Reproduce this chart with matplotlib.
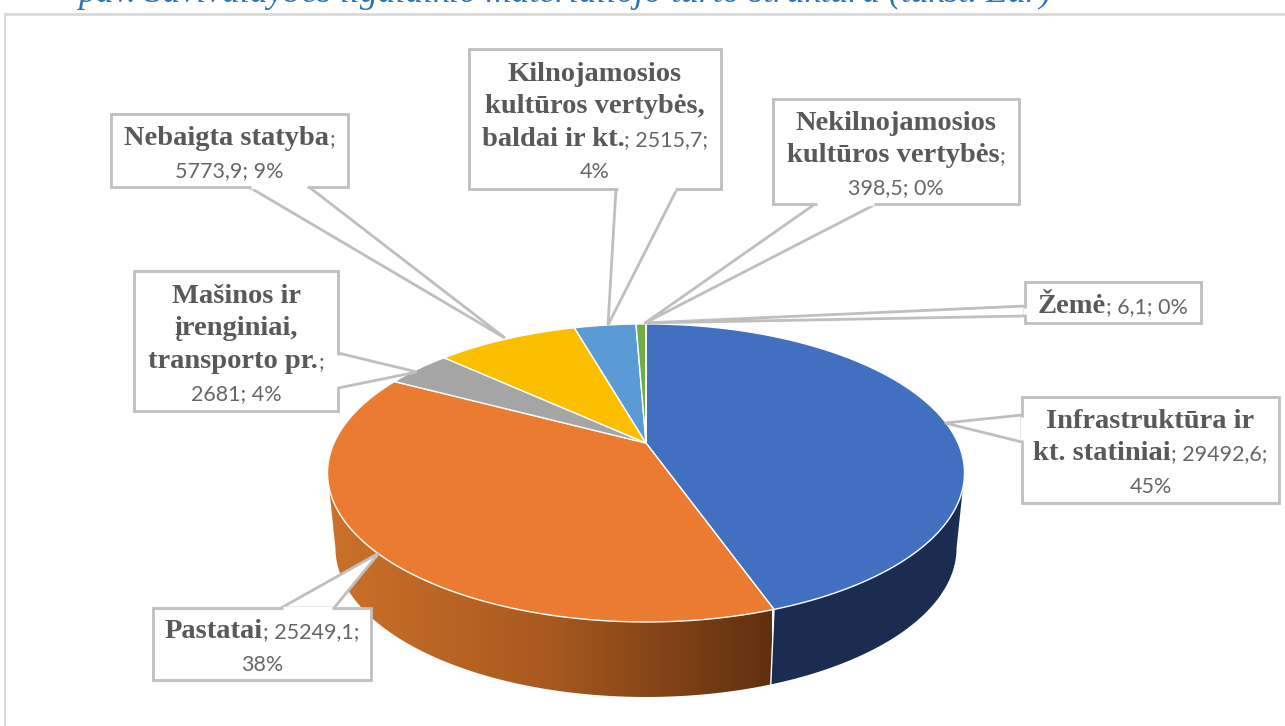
import numpy as np
import matplotlib
matplotlib.use("Agg")
import matplotlib.pyplot as plt
from matplotlib.colors import LinearSegmentedColormap
from matplotlib.patches import Polygon

# slices, clockwise from 12 o'clock
categories = ["Infrastruktūra ir kt. statiniai", "Pastatai", "Mašinos ir įrenginiai, transporto pr.",
              "Nebaigta statyba", "Kilnojamosios kultūros vertybės, baldai ir kt.",
              "Nekilnojamosios kultūros vertybės", "Žemė"]
values = [29492.6, 25249.1, 2681, 5773.9, 2515.7, 398.5, 6.1]
colors = ["#4170c0", "#ea7b30", "#a5a5a5", "#fcbf00", "#5b9bd5", "#70ad47", "#264478"]

title = "pav. Savivaldybės ilgalaikio materialiojo turto struktūra (tūkst. Eur)"

# each label: list of lines, each line = (bold part, normal part)
labels = [
    [("Infrastruktūra ir", ""), ("kt. statiniai", "; 29492,6;"), ("", "45%")],
    [("Pastatai", "; 25249,1;"), ("", "38%")],
    [("Mašinos ir", ""), ("įrenginiai,", ""), ("transporto pr.", ";"), ("", "2681; 4%")],
    [("Nebaigta statyba", ";"), ("", "5773,9; 9%")],
    [("Kilnojamosios", ""), ("kultūros vertybės,", ""), ("baldai ir kt.", "; 2515,7;"), ("", "4%")],
    [("Nekilnojamosios", ""), ("kultūros vertybės", ";"), ("", "398,5; 0%")],
    [("Žemė", "; 6,1; 0%")],
]

# callout outlines in picture pixels, box first then pointer
boxes = [(1022, 397, 1279, 503), (153, 608, 371, 680), (134, 271, 338, 411), (111, 114, 348, 187),
         (469, 49, 721, 189), (773, 99, 1019, 204), (1025, 282, 1201, 323)]
pointers = [
    [(1022, 415), (945, 423), (1022, 442)],
    [(281, 608), (379, 553), (334, 608)],
    [(338, 353), (417, 372), (338, 388)],
    [(249, 187), (505, 338), (309, 187)],
    [(616, 189), (608, 325), (677, 189)],
    [(815, 204), (645, 323), (876, 204)],
    [(1025, 306), (644, 323), (1025, 316)],
]

cx, cy = 646, 443
k = 0.201
a = 143
b = 312
depth = 75


def project(theta):
    # theta clockwise from the top of the disc, slight perspective
    u, v = np.sin(theta), np.cos(theta)
    s = 1 + k * v
    return b * u / s, -a * v / s


def rim(t0, t1, n=200):
    x, y = project(np.linspace(t0, t1, n))
    return np.column_stack([cx + x, cy + y])


def rim_low(t0, t1, n=200):
    x, y = project(np.linspace(t0, t1, n))
    return np.column_stack([cx + 0.975 * x, cy + y + depth])


fig = plt.figure(figsize=(12.85, 7.26), dpi=100)
ax = fig.add_axes([0, 0, 1, 1])

edges = np.concatenate([[0], np.cumsum(values)]) / np.sum(values) * 2 * np.pi
side_start = np.radians(101.6)
side_end = np.radians(258.4)

# side walls
blue_top = rim(side_start, edges[1])
blue_low = rim_low(side_start, edges[1])
ax.add_patch(Polygon(np.vstack([blue_top, blue_low[::-1]]), fc="#1a2d50", ec="none", zorder=2))
or_top = rim(edges[1], side_end)
or_low = rim_low(edges[1], side_end)
side = Polygon(np.vstack([or_top, or_low[::-1]]), fc="none", ec="none", zorder=2)
ax.add_patch(side)
cmap = LinearSegmentedColormap.from_list("wall", ["#cc7129", "#a8591f", "#5f300f"])
img = ax.imshow(np.linspace(0, 1, 256).reshape(1, -1), cmap=cmap, extent=(328, 772, 720, 440),
                aspect="auto", zorder=2)
img.set_clip_path(side)
sep = np.vstack([rim(edges[1], edges[1], 1), rim_low(edges[1], edges[1], 1)])
ax.plot(sep[:, 0], sep[:, 1], color="white", lw=1, zorder=3)

# top face
for i, c in enumerate(colors):
    pts = np.vstack([[cx, cy], rim(edges[i], edges[i + 1])])
    ax.add_patch(Polygon(pts, fc=c, ec="white", lw=1, joinstyle="round", zorder=4))

# callouts
for box, ptr in zip(boxes, pointers):
    x0, y0, x1, y1 = box
    ax.add_patch(Polygon(ptr, fc="white", ec="#bfbfbf", lw=2, zorder=5))
    ax.add_patch(Polygon([(x0, y0), (x1, y0), (x1, y1), (x0, y1)], fc="white", ec="#bfbfbf", lw=2, zorder=6))
    # hide the box edge under the pointer base
    (px0, py0), (px1, py1) = ptr[0], ptr[2]
    if py0 == py1:
        ax.plot([px0 + 2, px1 - 2], [py0, py1], color="white", lw=2.4, zorder=7, solid_capstyle="butt")
    else:
        ax.plot([px0, px1], [py0 + 2, py1 - 2], color="white", lw=2.4, zorder=7, solid_capstyle="butt")

ax.plot([5, 1285], [14, 14], color="#d9d9d9", lw=2, zorder=1)
ax.plot([5, 5], [14, 726], color="#d9d9d9", lw=1.5, zorder=1)
ax.text(78, 2, title, family="Liberation Serif", style="italic", fontsize=25.7, color="#2e74b5",
        ha="left", va="baseline")

ax.set_xlim(0, 1285)
ax.set_ylim(726, 0)
ax.axis("off")

# labels: mixed fonts on a line, so measure the pieces and centre them by hand
fig.canvas.draw()
renderer = fig.canvas.get_renderer()
spacing = 32.5
for lines, box in zip(labels, boxes):
    xm = (box[0] + box[2]) / 2
    ym = (box[1] + box[3]) / 2
    n = len(lines)
    for j, (bold, normal) in enumerate(lines):
        y = ym + (j - (n - 1) / 2) * spacing
        pieces = []
        if bold:
            pieces.append(ax.text(0, y + 10.5, bold, family="Liberation Serif", weight="bold", fontsize=20.5,
                                  color="#595959", va="baseline", zorder=8))
        if normal:
            pieces.append(ax.text(0, y + 10.5, normal, family="Lato", fontsize=15.5,
                                  color="#666666", va="baseline", zorder=8))
        widths = [p.get_window_extent(renderer).width for p in pieces]
        x = xm - sum(widths) / 2
        for p, w in zip(pieces, widths):
            p.set_x(x)
            x += w

fig.savefig("out.png", dpi=100)
